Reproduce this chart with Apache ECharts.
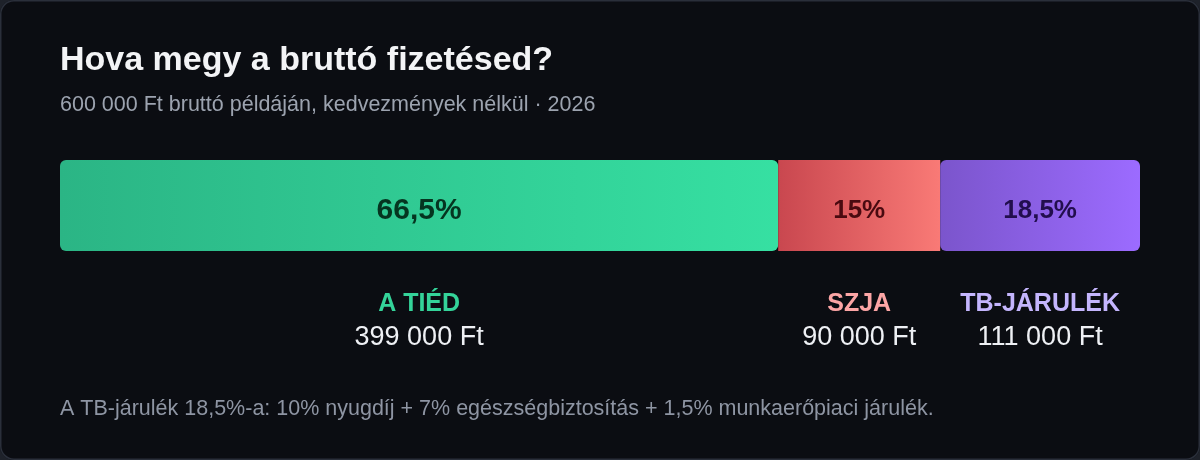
<!DOCTYPE html>
<html>
<head>
<meta charset="utf-8">
<script src="https://cdn.jsdelivr.net/npm/echarts@6/dist/echarts.min.js"></script>
<style>
html,body{margin:0;padding:0;background:#1e222a;}
#chart{width:1200px;height:460px;border-radius:14px;background:#0b0d12;box-shadow:inset 0 0 0 1.5px #2a2f3a;overflow:hidden;}
</style>
</head>
<body>
<div id="chart"></div>
<script>
const categories = ['A TIÉD', 'SZJA', 'TB-JÁRULÉK'];
const shares = [66.5, 15, 18.5];
const amounts = [399000, 90000, 111000];
const gradFrom = ['#2bb585', '#c9474f', '#7b55cc'];
const gradTo = ['#36e0a2', '#f97a76', '#9c6bff'];
const innerLabelColors = ['#053520', '#4a0a10', '#220e4e'];
const nameColors = ['#34d399', '#fca5a5', '#c4b5fd'];
const innerLabelSizes = [30, 26, 26];
const radii = [6, 0, 6];

const FONT = '"Liberation Sans", Arial, Helvetica, sans-serif';
const fmtPct = v => String(v).replace('.', ',') + '%';
const fmtFt = v => String(v).replace(/\B(?=(\d{3})+(?!\d))/g, ' ') + ' Ft';

const series = [];
categories.forEach((name, i) => {
  series.push({
    type: 'bar', name: name, stack: 'main', xAxisIndex: 0, yAxisIndex: 0,
    barWidth: '100%', data: [shares[i]], silent: true,
    itemStyle: {
      borderRadius: radii[i],
      color: new echarts.graphic.LinearGradient(0, 0, 1, 0, [
        {offset: 0, color: gradFrom[i]}, {offset: 1, color: gradTo[i]}
      ])
    },
    label: {
      show: true, position: 'inside', offset: [0, 5], formatter: () => fmtPct(shares[i]),
      color: innerLabelColors[i], fontSize: innerLabelSizes[i], fontWeight: 'bold', fontFamily: FONT
    }
  });
  series.push({
    type: 'bar', name: name + '_lbl', stack: 'labels', xAxisIndex: 1, yAxisIndex: 1,
    barWidth: '100%', data: [shares[i]], silent: true,
    itemStyle: {color: 'rgba(0,0,0,0)'},
    label: {
      show: true, position: 'inside',
      formatter: () => '{n|' + name + '}\n{v|' + fmtFt(amounts[i]) + '}',
      rich: {
        n: {color: nameColors[i], fontSize: 25, fontWeight: 'bold', fontFamily: FONT, lineHeight: 34, align: 'center'},
        v: {color: '#eef0f4', fontSize: 27, fontFamily: FONT, lineHeight: 34, align: 'center'}
      }
    }
  });
});

const chart = echarts.init(document.getElementById('chart'), null, {renderer: 'canvas'});
chart.setOption({
  animation: false,
  title: [
    {text: 'Hova megy a bruttó fizetésed?', left: 60, top: 41, padding: 0,
     textStyle: {color: '#f3f4f6', fontSize: 34, fontWeight: 'bold', fontFamily: FONT, lineHeight: 40}},
    {text: '600 000 Ft bruttó példáján, kedvezmények nélkül · 2026', left: 60, top: 93, padding: 0,
     textStyle: {color: '#9ca3af', fontSize: 21.5, fontWeight: 'normal', fontFamily: FONT, lineHeight: 24}},
    {text: 'A TB-járulék 18,5%-a: 10% nyugdíj + 7% egészségbiztosítás + 1,5% munkaerőpiaci járulék.', left: 60, top: 397, padding: 0,
     textStyle: {color: '#8e95a3', fontSize: 21.5, fontWeight: 'normal', fontFamily: FONT, lineHeight: 24}}
  ],
  grid: [
    {left: 60, right: 60, top: 160, height: 91},
    {left: 60, right: 60, top: 287, height: 68}
  ],
  xAxis: [
    {type: 'value', min: 0, max: 100, show: false, gridIndex: 0},
    {type: 'value', min: 0, max: 100, show: false, gridIndex: 1}
  ],
  yAxis: [
    {type: 'category', data: ['bar'], show: false, gridIndex: 0},
    {type: 'category', data: ['labels'], show: false, gridIndex: 1}
  ],
  series: series
});
</script>
</body>
</html>
